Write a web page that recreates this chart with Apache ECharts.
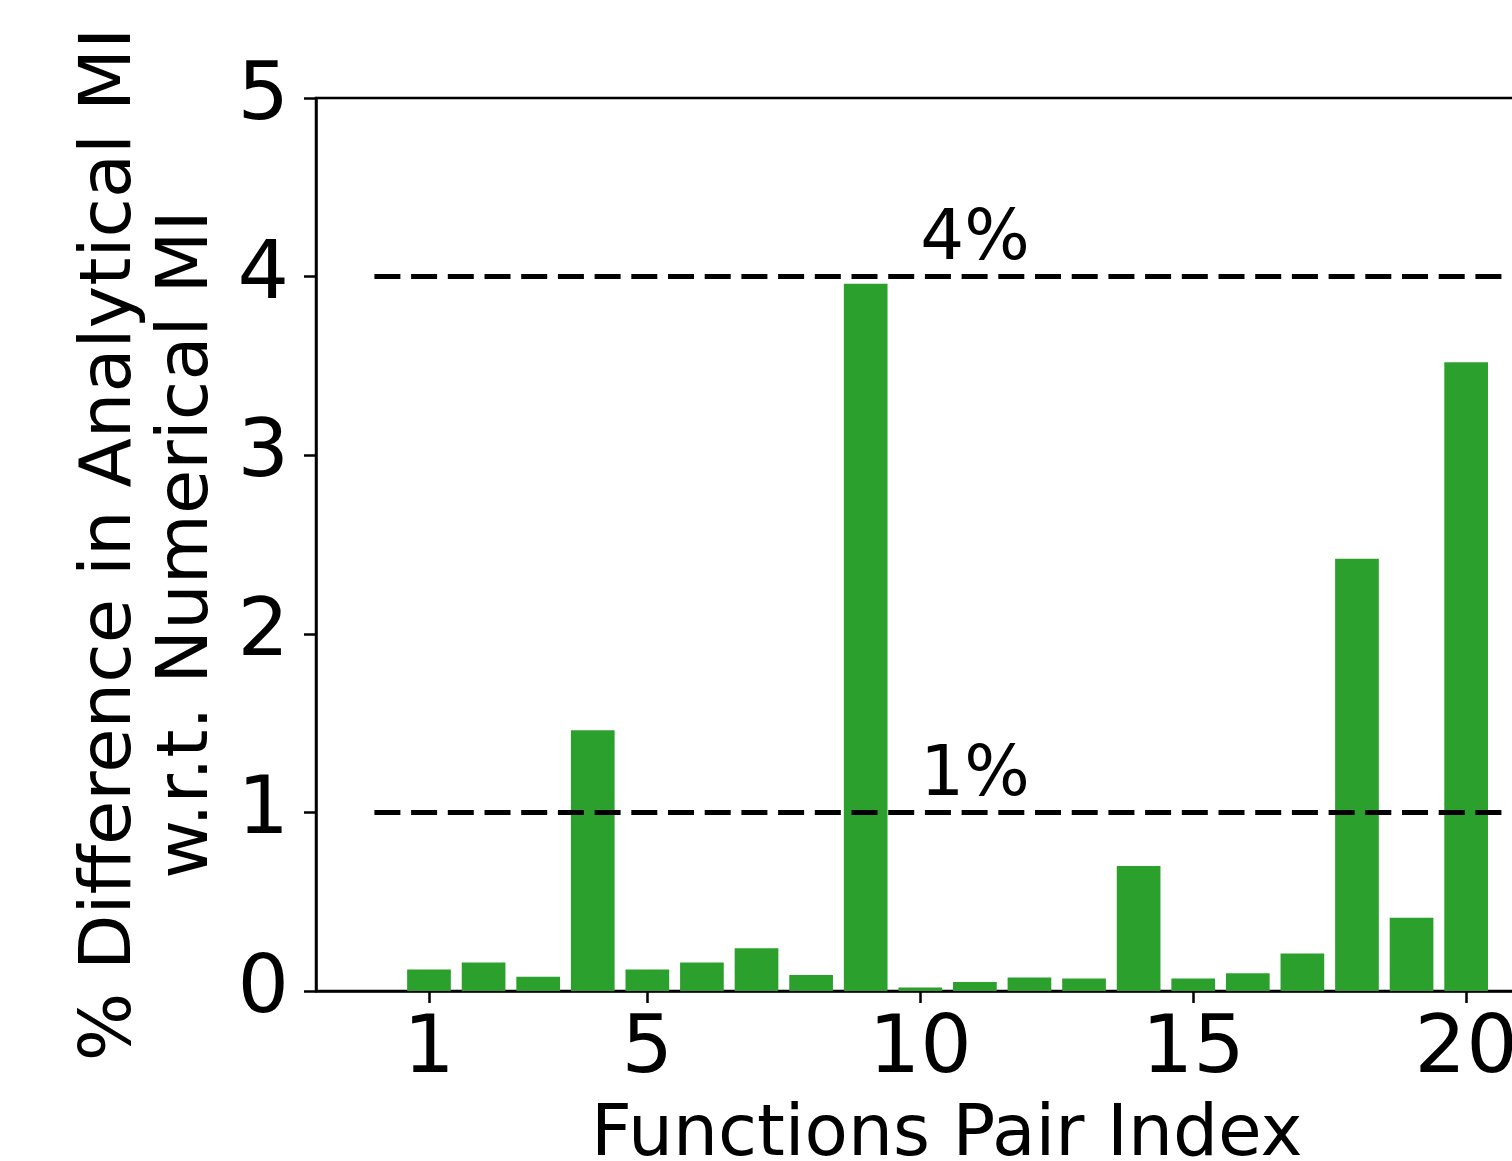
<!DOCTYPE html>
<html>
<head>
<meta charset="utf-8">
<script src="https://cdn.jsdelivr.net/npm/echarts@6/dist/echarts.min.js"></script>
<style>
html,body{margin:0;padding:0;background:#fff;overflow:hidden;width:1512px;height:1161px;}
#c{width:1700px;height:1161px;}
</style>
</head>
<body>
<div id="c"></div>
<script>
const pairIndex = [1,2,3,4,5,6,7,8,9,10,11,12,13,14,15,16,17,18,19,20];
const pctDiff = [0.12,0.16,0.08,1.46,0.12,0.16,0.24,0.09,3.96,0.02,0.05,0.075,0.07,0.70,0.07,0.10,0.21,2.42,0.41,3.52];
const xTicks = [1,5,10,15,20];
const yTicks = [0,1,2,3,4,5];
const thresholds = [1,4];
const thresholdLabels = ['1%','4%'];
const thresholdLineStart = 0;
const thresholdLineEnd = 21;
const thresholdLabelX = 10;
const thresholdLabelY = [1.1,4.1];

const FONT = 'DejaVu Sans';
const chart = echarts.init(document.getElementById('c'), null, {renderer:'canvas'});

const barData = pairIndex.map((x,i)=>[x,pctDiff[i]]);

chart.setOption({
  animation:false,
  backgroundColor:'#fff',
  grid:{left:316, top:98, width:1261.5, height:893, outerBoundsMode:'none', containLabel:false,
        show:true, borderColor:'#000', borderWidth:2.5, backgroundColor:'transparent'},
  xAxis:{
    type:'value', min:-1.07, max:22.04,
    name:'Functions Pair Index', nameLocation:'middle', nameGap:110,
    nameTextStyle:{fontFamily:FONT, fontSize:71, color:'#000'},
    axisLine:{show:true, onZero:false, lineStyle:{color:'#000', width:2.5}},
    axisTick:{show:true, customValues:xTicks, length:12, inside:false, lineStyle:{color:'#000', width:2.5}},
    axisLabel:{customValues:xTicks, fontFamily:FONT, fontSize:81, color:'#000', margin:19},
    splitLine:{show:false}
  },
  yAxis:{
    type:'value', min:0, max:5, interval:1,
    name:'% Difference in Analytical MI\nw.r.t. Numerical MI', nameLocation:'middle', nameGap:75, nameRotate:90,
    nameTextStyle:{fontFamily:FONT, fontSize:72, color:'#000', lineHeight:77, align:'center'},
    axisLine:{show:true, onZero:false, lineStyle:{color:'#000', width:2.5}},
    axisTick:{show:true, length:12, inside:false, lineStyle:{color:'#000', width:2.5}},
    axisLabel:{fontFamily:FONT, fontSize:81, color:'#000', margin:27, formatter:v=>yTicks.includes(v)?String(v):''},
    splitLine:{show:false}
  },
  series:[
    {
      type:'bar',
      data:barData,
      barWidth:43.7,
      itemStyle:{color:'#2ca02c'},
      markLine:{
        silent:true, symbol:['none','none'],
        label:{show:false},
        lineStyle:{color:'#000', width:5, type:[26,10.7], opacity:1},
        data: thresholds.map(t=>[{coord:[thresholdLineStart,t]},{coord:[thresholdLineEnd,t]}])
      }
    },
    {
      type:'scatter',
      symbolSize:0,
      itemStyle:{opacity:1},
      data: thresholds.map((t,i)=>({value:[thresholdLabelX, thresholdLabelY[i]], name:thresholdLabels[i]})),
      label:{show:true, formatter:p=>p.name, position:[0,0], align:'left', verticalAlign:'bottom', offset:[0,17],
        fontFamily:FONT, fontSize:69, color:'#000', opacity:1},
      silent:true
    }
  ]
});
</script>
</body>
</html>
